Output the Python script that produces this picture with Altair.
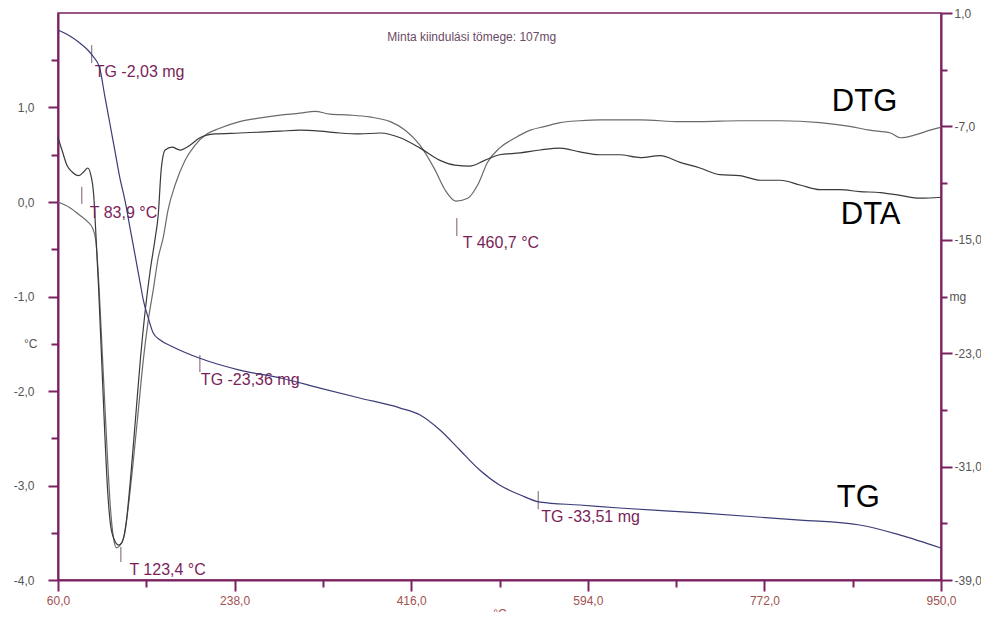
import altair as alt
import pandas as pd

# ---------------- data ----------------
# DTG curve (left axis, °C scale)
dtg_T = [60, 72, 82, 90, 95, 98, 101, 104, 107, 110, 113, 116, 119, 122, 127, 131, 136, 141,
         146, 151, 156, 161, 166, 171, 178, 188, 198, 210, 223, 243, 264, 284, 304, 319, 334,
         354, 374, 395, 410, 425, 440, 450, 461, 473, 483, 493, 505, 521, 536, 551, 566, 586,
         606, 647, 687, 707, 747, 788, 828, 858, 878, 899, 909, 924, 939, 950]
dtg_v = [0.0, -0.06, -0.14, -0.21, -0.28, -0.40, -0.83, -1.46, -2.10, -2.73, -3.26, -3.56,
         -3.66, -3.64, -3.52, -3.21, -2.73, -2.20, -1.67, -1.25, -0.93, -0.59, -0.38, -0.08,
         0.18, 0.44, 0.60, 0.72, 0.78, 0.85, 0.89, 0.92, 0.94, 0.96, 0.93, 0.92, 0.90, 0.85,
         0.76, 0.60, 0.34, 0.13, 0.01, 0.04, 0.18, 0.42, 0.57, 0.68, 0.76, 0.80, 0.84, 0.86,
         0.87, 0.87, 0.85, 0.85, 0.86, 0.86, 0.84, 0.80, 0.76, 0.73, 0.68, 0.71, 0.76, 0.79]

# DTA curve (left axis, °C)
dta_T = [60, 64, 69, 74, 81, 86, 90, 93, 96, 98, 101, 104, 107, 110, 113, 117, 121, 124, 129,
         133, 138, 143, 148, 153, 158, 161, 164, 168, 175, 183, 193, 203, 218, 243, 264, 284,
         304, 324, 344, 364, 385, 405, 425, 445, 460, 475, 490, 505, 526, 546, 566, 586, 606,
         626, 647, 667, 687, 707, 727, 747, 768, 788, 808, 828, 848, 868, 889, 909, 929, 950]
dta_v = [0.68, 0.55, 0.39, 0.32, 0.28, 0.32, 0.36, 0.29, 0.07, -0.30, -0.93, -1.67, -2.41,
         -3.05, -3.42, -3.58, -3.63, -3.61, -3.37, -2.94, -2.31, -1.67, -1.14, -0.72, -0.38,
         -0.14, 0.34, 0.55, 0.58, 0.55, 0.60, 0.68, 0.72, 0.73, 0.74, 0.75, 0.76, 0.75, 0.73,
         0.72, 0.73, 0.68, 0.57, 0.44, 0.39, 0.38, 0.44, 0.50, 0.52, 0.55, 0.57, 0.53, 0.50,
         0.50, 0.47, 0.49, 0.42, 0.36, 0.29, 0.28, 0.23, 0.23, 0.18, 0.13, 0.13, 0.11, 0.10,
         0.07, 0.04, 0.05]

# TG curve (right axis, mg)
tg_T = [60, 72, 82, 90, 95, 102, 107, 112, 117, 122, 128, 133, 138, 143, 146, 151, 156, 163,
        176, 203, 243, 284, 324, 364, 405, 425, 445, 465, 485, 505, 526, 546, 586, 626, 707,
        808, 868, 909, 950]
tg_mg = [-0.20, -0.62, -1.12, -1.61, -2.03, -2.88, -4.79, -6.69, -8.59, -10.50, -12.40,
         -14.31, -16.21, -18.12, -19.25, -20.52, -21.58, -22.07, -22.56, -23.36, -24.19,
         -24.75, -25.46, -26.16, -26.87, -27.36, -28.42, -29.83, -31.24, -32.30, -33.00,
         -33.51, -33.71, -33.92, -34.27, -34.77, -35.12, -35.83, -36.74]

# annotations: marker temperature, marker top / bottom (°C axis), label position
ann_text = ["TG -2,03 mg", "T 83,9 °C", "TG -23,36 mg", "T 460,7 °C", "TG -33,51 mg", "T 123,4 °C"]
ann_mark_T = [94, 84, 203, 462, 544, 123.4]
ann_mark_top = [1.66, 0.16, -1.62, -0.17, -3.06, -3.65]
ann_mark_bot = [1.47, -0.02, -1.80, -0.36, -3.25, -3.81]
ann_label_T = [97, 92, 204, 468, 547, 132]
ann_label_v = [1.38, -0.12, -1.88, -0.43, -3.33, -3.89]

curve_names = ["DTG", "DTA", "TG"]
curve_name_T = [840, 849, 845]
curve_name_v = [1.06, -0.14, -3.13]

title_text = ["Minta kiindulási tömege: 107mg"]
title_T = [477]
title_v = [1.75]

x_ticks = [60, 149, 238, 327, 416, 505, 594, 683, 772, 861, 950]
left_ticks = [-4, -3.5, -3, -2.5, -2, -1.5, -1, -0.5, 0, 0.5, 1, 1.5]
right_ticks = [-39, -35, -31, -27, -23, -19, -15, -11, -7, -3, 1]

# ---------------- styling ----------------
FONT = "Liberation Sans"
FRAME = "#7b2060"
ANN = "#7a1f5a"

dtg_df = pd.DataFrame({"T": dtg_T, "v": dtg_v})
dta_df = pd.DataFrame({"T": dta_T, "v": dta_v})
tg_df = pd.DataFrame({"T": tg_T, "mg": tg_mg})
ann_rule_df = pd.DataFrame({"T": ann_mark_T, "v": ann_mark_top, "v2": ann_mark_bot})
ann_text_df = pd.DataFrame({"T": ann_label_T, "v": ann_label_v, "label": ann_text})
names_df = pd.DataFrame({"T": curve_name_T, "v": curve_name_v, "label": curve_names})
title_df = pd.DataFrame({"T": title_T, "v": title_v, "label": title_text})

num_fmt = "(datum.value < 0 ? '-' : '') + replace(format(abs(datum.value), '.1f'), '.', ',')"

x_axis = alt.Axis(
    values=x_ticks,
    labelExpr=f"(datum.value - 60) % 178 === 0 ? {num_fmt} : ''",
    tickSize={"condition": {"test": "(datum.value - 60) % 178 === 0", "value": 11}, "value": 7},
    title="°C", titleColor="#a0524f", titleFont=FONT, titleFontSize=12,
    titleFontWeight="normal", titlePadding=2,
    labelColor="#a0524f", labelFont=FONT, labelFontSize=12, labelPadding=4,
    domainColor=FRAME, domainWidth=2, tickColor=FRAME, tickWidth=2, grid=False,
    labelFlush=False,
)
X = alt.X("T:Q", scale=alt.Scale(domain=[60, 950], nice=False, zero=False), axis=x_axis)

left_axis = alt.Axis(
    values=left_ticks,
    labelExpr=f"datum.value === -1.5 ? '°C' : (datum.value % 1 === 0 ? {num_fmt} : '')",
    tickSize={"condition": {"test": "datum.value % 1 === 0", "value": 10}, "value": 7},
    title=None, labelColor="#555555", labelFont=FONT, labelFontSize=12, labelPadding=14,
    domainColor=FRAME, domainWidth=2, tickColor=FRAME, tickWidth=2, grid=False,
    labelFlush=False,
)
Y = alt.Y("v:Q", scale=alt.Scale(domain=[-4, 2], nice=False, zero=False), axis=left_axis)

right_axis = alt.Axis(
    orient="right", values=right_ticks,
    labelExpr=f"datum.value === -19 ? 'mg' : ((datum.value + 39) % 8 === 0 ? {num_fmt} : '')",
    tickSize={"condition": {"test": "(datum.value + 39) % 8 === 0", "value": 11}, "value": 6},
    title=None, labelColor="#555555", labelFont=FONT, labelFontSize=12, labelPadding=2,
    domainColor=FRAME, domainWidth=2, tickColor=FRAME, tickWidth=2, grid=False,
    labelFlush=False,
)
Y_R = alt.Y("mg:Q", scale=alt.Scale(domain=[-39, 1], nice=False, zero=False), axis=right_axis)

dtg_line = alt.Chart(dtg_df).mark_line(color="#6a6a6a", strokeWidth=1.2, interpolate="monotone").encode(x=X, y=Y)
dta_line = alt.Chart(dta_df).mark_line(color="#3a3a3a", strokeWidth=1.2, interpolate="monotone").encode(x=X, y=Y)

rules = alt.Chart(ann_rule_df).mark_rule(color="#7a5a70", strokeWidth=1).encode(x=X, y=Y, y2="v2:Q")
ann_labels = alt.Chart(ann_text_df).mark_text(
    align="left", baseline="middle", font=FONT, fontSize=16, color=ANN
).encode(x=X, y=Y, text="label:N")
name_labels = alt.Chart(names_df).mark_text(
    align="left", baseline="middle", font=FONT, fontSize=31, color="#000000"
).encode(x=X, y=Y, text="label:N")
title_mark = alt.Chart(title_df).mark_text(
    align="center", baseline="middle", font=FONT, fontSize=12, color="#6b4a66"
).encode(x=X, y=Y, text="label:N")

left_layer = alt.layer(dtg_line, dta_line, rules, ann_labels, name_labels, title_mark)

tg_line = alt.Chart(tg_df).mark_line(color="#3c3c78", strokeWidth=1.2, interpolate="monotone").encode(x=X, y=Y_R)

chart = alt.layer(left_layer, tg_line).resolve_scale(y="independent").properties(
    width=883, height=567,
    autosize=alt.AutoSizeParams(type="none"),
    padding={"left": 50, "top": 5, "right": 40, "bottom": 32},
    background="white",
).configure_view(stroke=FRAME, strokeWidth=1.5)

chart.save("out.html", embed_options={"renderer": "svg", "actions": False})
